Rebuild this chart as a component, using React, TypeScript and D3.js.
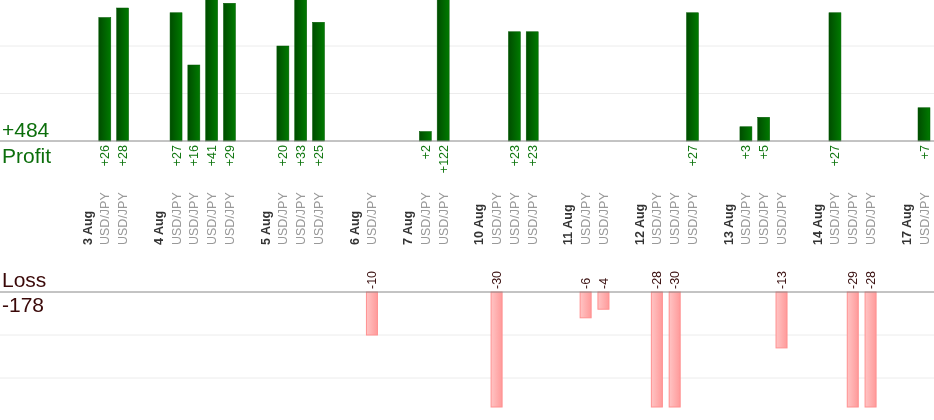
import React from "react";
import * as d3 from "d3";

// slot sequence: "D:<date>" date label, "T:<value>" trade, "" empty
const slots: string[] = [
  "D:3 Aug", "T:26", "T:28", "",
  "D:4 Aug", "T:27", "T:16", "T:41", "T:29", "",
  "D:5 Aug", "T:20", "T:33", "T:25", "",
  "D:6 Aug", "T:-10", "",
  "D:7 Aug", "T:2", "T:122", "",
  "D:10 Aug", "T:-30", "T:23", "T:23", "",
  "D:11 Aug", "T:-6", "T:-4", "",
  "D:12 Aug", "T:-28", "T:-30", "T:27", "",
  "D:13 Aug", "T:3", "T:5", "T:-13", "",
  "D:14 Aug", "T:27", "T:-29", "T:-28", "",
  "D:17 Aug", "T:7",
];
const pair = "USD/JPY";
const totalProfit = "+484";
const totalLoss = "-178";

export default function App() {
  const W = 934, H = 420;
  const x = d3.scaleLinear().domain([0, slots.length - 1]).range([87, 924]);
  const py = d3.scaleLinear().domain([0, 10]).range([141, 93.5]);
  const ly = d3.scaleLinear().domain([0, 10]).range([292, 335]);
  const bw = 12;
  const items = slots.map((s, i) => ({ s, i }));
  return (
    <div style={{ position: "fixed", left: 0, top: 0 }}>
      <svg width={W} height={H} style={{ display: "block", fontFamily: "Arial, 'Liberation Sans', sans-serif" }}>
        <defs>
          <linearGradient id="gp" x1="0" x2="1" y1="0" y2="0">
            <stop offset="0" stopColor="#004d00" />
            <stop offset="1" stopColor="#007a00" />
          </linearGradient>
          <linearGradient id="gl" x1="0" x2="1" y1="0" y2="0">
            <stop offset="0" stopColor="#ffc4c4" />
            <stop offset="1" stopColor="#ff9a9a" />
          </linearGradient>
        </defs>
        {[10, 20, 30].map(v => (
          <line key={"pg" + v} x1={0} x2={W} y1={py(v)} y2={py(v)} stroke="#ececec" />
        ))}
        {[10, 20].map(v => (
          <line key={"lg" + v} x1={0} x2={W} y1={ly(v)} y2={ly(v)} stroke="#ececec" />
        ))}
        {items.map(({ s, i }) => {
          if (!s.startsWith("T:")) return null;
          const v = +s.slice(2);
          const cx = x(i);
          if (v > 0) {
            const top = Math.max(py(v), -2);
            return (
              <g key={i}>
                <rect x={cx - bw / 2} y={top} width={bw} height={py(0) - top} fill="url(#gp)" stroke="#005a00" strokeWidth={0.5} />
                <text transform={`translate(${cx + 4.5},${145}) rotate(-90)`} textAnchor="end" fontSize={12.5} fill="#117711">{"+" + v}</text>
              </g>
            );
          } else {
            const bot = Math.min(ly(-v), 407);
            return (
              <g key={i}>
                <rect x={cx - bw / 2 + 0.5} y={ly(0)} width={bw - 1} height={bot - ly(0)} fill="url(#gl)" stroke="#ff9090" strokeWidth={1} />
                <text transform={`translate(${cx + 4.5},${289}) rotate(-90)`} textAnchor="start" fontSize={12.5} fill="#3a1010">{String(v)}</text>
              </g>
            );
          }
        })}
        {items.map(({ s, i }) => {
          if (s === "") return null;
          const cx = x(i);
          const isDate = s.startsWith("D:");
          return (
            <text key={"l" + i} transform={`translate(${cx + 4.5},${245}) rotate(-90)`} textAnchor="start"
              fontSize={12.5} fontWeight={isDate ? "bold" : "normal"} fill={isDate ? "#333" : "#999"}>
              {isDate ? s.slice(2) : pair}
            </text>
          );
        })}
        <line x1={0} x2={W} y1={py(0)} y2={py(0)} stroke="#888" />
        <line x1={0} x2={W} y1={ly(0)} y2={ly(0)} stroke="#888" />
        <text x={2} y={137} fontSize={21} fill="#0b6e0b">{totalProfit}</text>
        <text x={2} y={163} fontSize={21} fill="#0b6e0b">Profit</text>
        <text x={2} y={287} fontSize={21} fill="#3a0808">Loss</text>
        <text x={2} y={312} fontSize={21} fill="#3a0808">{totalLoss}</text>
      </svg>
    </div>
  );
}
